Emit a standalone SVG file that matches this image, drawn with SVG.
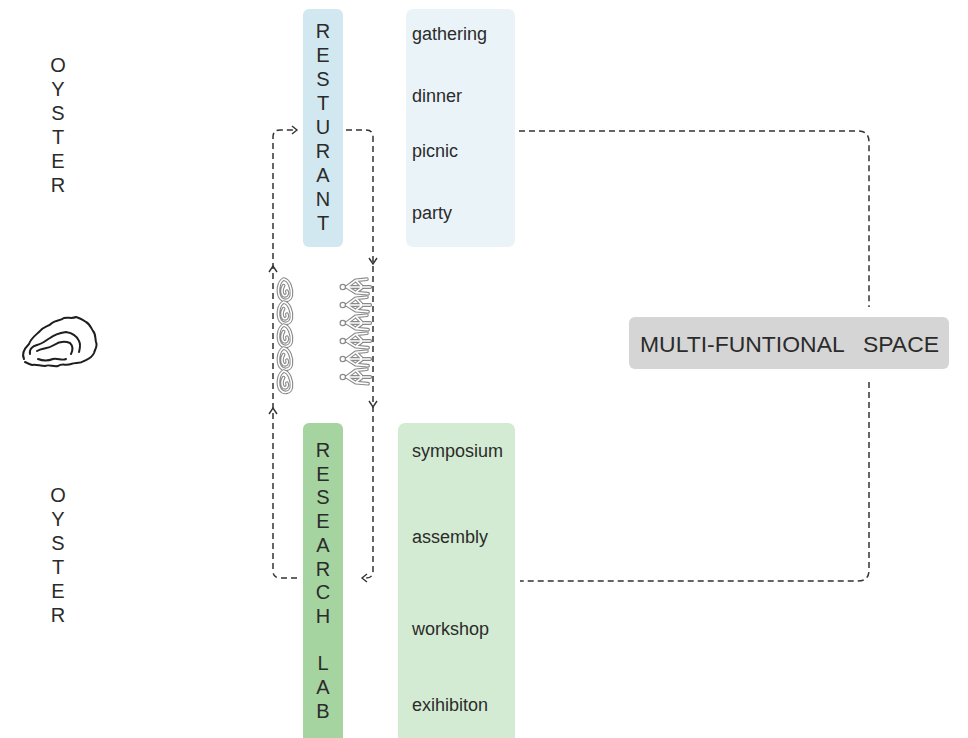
<svg xmlns="http://www.w3.org/2000/svg" xmlns:xlink="http://www.w3.org/1999/xlink" width="968" height="738" viewBox="0 0 968 738">
<style>
text{font-family:"Liberation Sans",Arial,sans-serif;fill:#2b2b2b}
.stack{font-size:20px;text-anchor:middle}
.item{font-size:18px}
.dash{fill:none;stroke:#333;stroke-width:1.5;stroke-dasharray:6 4}
.tick{fill:none;stroke:#333;stroke-width:1.4}
.outer{fill:none;stroke:#8a8a8a;stroke-width:3.4;stroke-linejoin:round;stroke-linecap:round}
.inner{fill:none;stroke:#ffffff;stroke-width:1.4;stroke-linejoin:round;stroke-linecap:round}
</style>
<defs>
<path id="fig" d="M6 0 L14 -6 L24 -7 M6 0 L14 5 L25 6 M8 0 H27 M15 -5 L19 -1 M15 4 L19 1 M4 0 H6"/>
<path id="shl" d="M6 0 C1 3 0 12 3 17 C6 21 12 20 13 15 C14 9 11 1 6 0 Z M6 6 C4 9 4 13 6 15 C9 16 10 13 9 11"/>
<g id="figure">
<use xlink:href="#fig" class="outer"/>
<use xlink:href="#fig" class="inner"/>
<circle cx="2.5" cy="0" r="2.4" fill="#fff" stroke="#8a8a8a" stroke-width="1.1"/>
</g>
<g id="shell">
<use xlink:href="#shl" class="outer"/>
<use xlink:href="#shl" class="inner"/>
</g>
</defs>

<g id="oyster-top">
<text class="stack"><tspan x="58" y="72">O</tspan><tspan x="58" y="96">Y</tspan><tspan x="58" y="120">S</tspan><tspan x="58" y="144">T</tspan><tspan x="58" y="168">E</tspan><tspan x="58" y="192">R</tspan></text>
</g>
<g id="oyster-bottom">
<text class="stack"><tspan x="58" y="502">O</tspan><tspan x="58" y="526">Y</tspan><tspan x="58" y="550">S</tspan><tspan x="58" y="574">T</tspan><tspan x="58" y="598">E</tspan><tspan x="58" y="622">R</tspan></text>
</g>

<g id="oyster-icon" fill="none" stroke="#1e1e1e" stroke-width="2" stroke-linecap="round" stroke-linejoin="round">
<path d="M24 359 C21 353 25 348 29 344 C31 338 36 335 40 331 C44 326 48 327 52 323 C56 320 60 321 64 318 C68 317 72 319 76 317 C80 318 83 320 86 322 C90 324 91 328 93 331 C96 334 95 338 96 342 C98 346 95 349 94 353 C92 358 88 359 84 361 C80 364 75 362 71 364 C66 366 62 363 58 366 C53 367 49 364 45 366 C40 366 36 364 32 365 C29 364 27 363 25 362"/>
<path d="M30 354 C29 349 33 346 37 345 C42 344 45 341 50 338 C55 334 60 333 66 332 C72 333 77 336 79 341 C81 345 80 348 79 352"/>
<path d="M37 351 C42 348 48 349 54 345 C60 341 65 341 70 343 C73 346 73 350 71 354"/>
<path d="M38 359 C43 361 48 361 53 359 C58 358 62 361 66 359"/>
</g>

<g id="resturant">
<rect x="303" y="9" width="40" height="238" rx="6" fill="#d2e8f1"/>
<text class="stack"><tspan x="323" y="38">R</tspan><tspan x="323" y="62">E</tspan><tspan x="323" y="86">S</tspan><tspan x="323" y="110">T</tspan><tspan x="323" y="134">U</tspan><tspan x="323" y="158">R</tspan><tspan x="323" y="182">A</tspan><tspan x="323" y="206">N</tspan><tspan x="323" y="230">T</tspan></text>
</g>
<g id="resturant-activities">
<rect x="406" y="9" width="109" height="238" rx="7" fill="#eaf4f8"/>
<text class="item" x="412" y="40">gathering</text>
<text class="item" x="412" y="102">dinner</text>
<text class="item" x="412" y="157">picnic</text>
<text class="item" x="412" y="219">party</text>
</g>

<g id="research-lab">
<rect x="303" y="423" width="40" height="322" rx="6" fill="#a6d4a1"/>
<text class="stack"><tspan x="323" y="457">R</tspan><tspan x="323" y="481">E</tspan><tspan x="323" y="504">S</tspan><tspan x="323" y="528">E</tspan><tspan x="323" y="552">A</tspan><tspan x="323" y="576">R</tspan><tspan x="323" y="599">C</tspan><tspan x="323" y="623">H</tspan><tspan x="323" y="670">L</tspan><tspan x="323" y="694">A</tspan><tspan x="323" y="718">B</tspan></text>
</g>
<g id="research-activities">
<rect x="398" y="423" width="117" height="322" rx="7" fill="#d3ebd2"/>
<text class="item" x="412" y="457">symposium</text>
<text class="item" x="412" y="543">assembly</text>
<text class="item" x="412" y="635">workshop</text>
<text class="item" x="412" y="711">exihibiton</text>
</g>

<g id="multi-space">
<rect x="629" y="317" width="320" height="52" rx="6" fill="#d5d5d5"/>
<text x="640" y="352" font-size="22" xml:space="preserve" textLength="299" lengthAdjust="spacingAndGlyphs">MULTI-FUNTIONAL   SPACE</text>
</g>

<g id="shells">
<use xlink:href="#shell" transform="translate(277,279) scale(1.1)"/>
<use xlink:href="#shell" transform="translate(277,302) scale(1.1)"/>
<use xlink:href="#shell" transform="translate(277,325) scale(1.1)"/>
<use xlink:href="#shell" transform="translate(277,348) scale(1.1)"/>
<use xlink:href="#shell" transform="translate(277,371) scale(1.1)"/>
</g>
<g id="figures">
<use xlink:href="#figure" transform="translate(340,287) scale(1.12)"/>
<use xlink:href="#figure" transform="translate(340,305) scale(1.12)"/>
<use xlink:href="#figure" transform="translate(340,323) scale(1.12)"/>
<use xlink:href="#figure" transform="translate(340,341) scale(1.12)"/>
<use xlink:href="#figure" transform="translate(340,359) scale(1.12)"/>
<use xlink:href="#figure" transform="translate(340,377) scale(1.12)"/>
</g>

<g id="connectors">
<path class="dash" d="M297 578 H280 Q273 578 273 571 V137 Q273 130 280 130 H296"/>
<path class="tick" d="M292 126 L297 130 L292 134"/>
<path class="tick" d="M269 272 L273 266 L277 272"/>
<path class="tick" d="M269 414 L273 408 L277 414"/>
<path class="dash" d="M346 130 H366 Q373 130 373 137 V571 Q373 578 366 578 H363"/>
<path class="tick" d="M367 574 L362 578 L367 582"/>
<path class="tick" d="M369 258 L373 264 L377 258"/>
<path class="tick" d="M369 401 L373 407 L377 401"/>
<path class="dash" d="M519 131 H858 Q869 131 869 142 V307"/>
<path class="dash" d="M869 382 V570 Q869 581 858 581 H520"/>
</g>
</svg>
